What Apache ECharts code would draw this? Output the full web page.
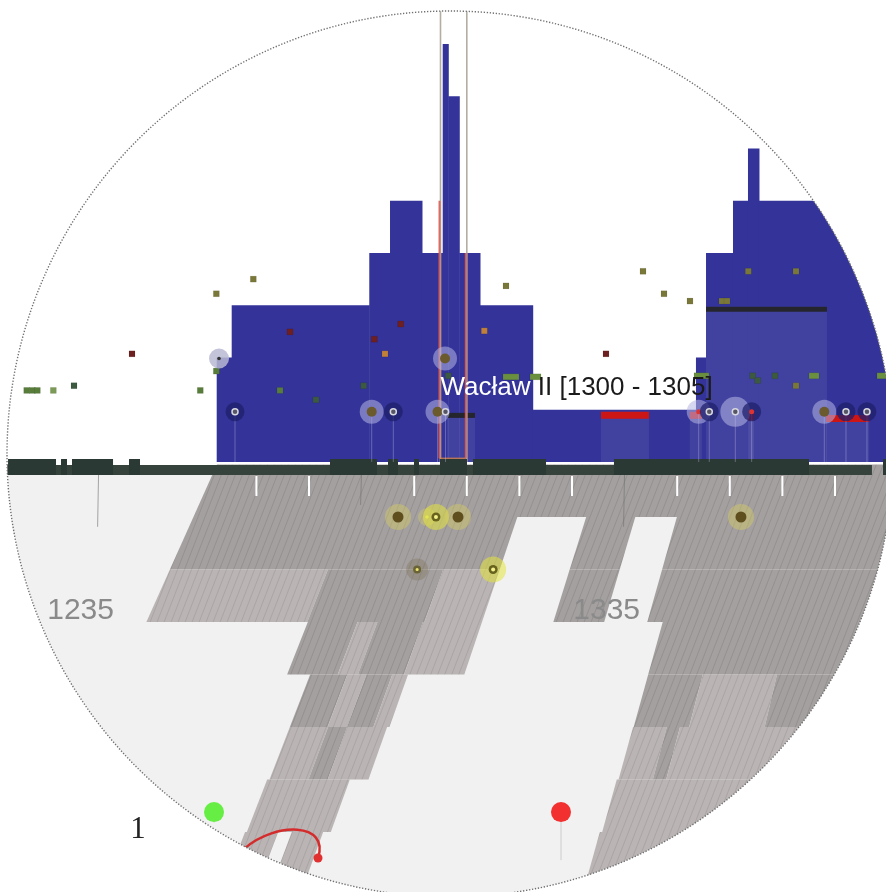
<!DOCTYPE html>
<html><head><meta charset="utf-8">
<script src="https://cdn.jsdelivr.net/npm/echarts@6/dist/echarts.min.js"></script>
<style>html,body{margin:0;padding:0;background:#fff}#c{width:886px;height:892px}</style>
</head><body><div id="c"></div>
<script>
// ---------------- DATA ----------------
// histogram of rulers (step bins, years) and their counts
const histEdges  = [1257.45,1260.30,1286.46,1290.40,1296.48,1300.42,1301.48,1303.57,1307.51,1317.53,1348.57,1350.48,1355.61,1358.46,1360.55,1390];
const histCounts = [2,3,4,5,4,8,7,4,3,1,2,4,5,6,5];

// highlighted reign
const reignName = 'Wacław';
const reignSuffix = 'II [1300 - 1305]';
const reignStart = 1300, reignEnd = 1305;
const reignTopLeft = 5, reignTopRight = 4;

// periods: [start, end, level, kind(0 dark bar,1 red bar)]
const periods = [
  [1301.24,1306.56,0.94,0],[1350.48,1373.48,2.97,0],
  [1330.51,1339.64,0.96,1],[1347.40,1349.70,0.96,1],[1358.50,1359.60,0.93,1],[1373.30,1381.50,0.90,1]
];

// small event squares: [year, level, colour index, width]
const squareColors = ['#6e1f1f','#c0803a','#7a7838','#587d3a','#3c5a40','#7a9a55','#6a8f3e'];
const squares = [
  [1241.35,2.07,0,6],[1221.33,1.37,3,6],[1222.40,1.37,3,6],[1223.35,1.37,3,6],[1226.39,1.37,5,6],
  [1230.32,1.46,4,6],[1254.33,1.37,3,6],[1257.38,1.74,3,6],[1269.49,1.37,3,6],[1271.39,2.49,0,6],
  [1264.41,3.50,2,6],[1257.38,3.22,2,6],[1292.43,2.64,0,6],[1287.41,2.35,0,6],[1289.45,2.07,1,6],
  [1312.45,3.37,2,6],[1308.33,2.51,1,6],[1301.48,1.65,4,6],[1285.40,1.46,4,6],[1276.33,1.19,4,6],
  [1313.40,1.63,6,16],[1318.06,1.63,6,11],[1331.46,2.07,0,6],[1349.62,1.65,6,15],[1359.35,1.65,4,6],
  [1360.30,1.56,4,6],[1363.59,1.65,4,6],[1367.59,1.46,2,6],[1371.01,1.65,6,10],[1383.94,1.65,6,10],
  [1338.50,3.65,2,6],[1342.49,3.22,2,6],[1347.43,3.08,2,6],[1353.52,3.08,2,6],[1354.47,3.08,2,6],
  [1358.52,3.65,2,6],[1367.59,3.65,2,6]
];

// halo markers: [year, level, halo kind, core kind]
const halos = [
  [1257.89,1.98,3,3],[1260.93,0.96,2,1],[1286.92,0.96,1,0],[1291.03,0.96,2,1],[1299.43,0.96,1,0],
  [1300.95,0.96,0,1],[1300.86,1.98,1,0],[1349.09,0.96,1,2],[1351.10,0.96,2,1],[1356.05,0.96,4,1],
  [1359.16,0.96,2,2],[1372.97,0.96,1,0],[1377.09,0.96,2,1],[1381.08,0.96,2,1]
];

// timeline strip segments: [start, end, raised(1)/base(0)]
const stripSegs = [
  [1216,1382.03,0],[1384.13,1392,0],
  [1217.78,1226.90,1],[1227.85,1228.99,1],[1229.94,1237.74,1],[1240.78,1242.87,1],
  [1278.99,1287.93,1],[1290.02,1291.92,1],[1294.96,1295.91,1],[1299.90,1305.04,1],
  [1306.18,1320.06,1],[1332.98,1370.06,1],[1384.13,1392,1]
];

// decade ticks (years)
const tickYears = [1265,1275,1295,1305,1315,1325,1345,1355,1365,1375];
// thin half-century guide lines: [year, bottom level]
const guideLines = [[1235,-1.24],[1285,-0.82],[1335,-1.24]];

// lower perspective plane: [start, end, rowTop, rowBottom, tone(1 dark,0 light)]
const lowerBands = [
  [1256.6,1400,0,1,1],
  [1256.6,1317.3,1,2,1],[1330.2,1339.4,1,2,1],[1347.2,1400,1,2,1],
  [1256.6,1285.7,2,3,0],[1285.7,1306.9,2,3,1],[1306.9,1317.3,2,3,0],[1330.2,1339.4,2,3,1],[1347.2,1400,2,3,1],
  [1285.8,1294.8,3,4,1],[1294.8,1298.4,3,4,0],[1298.4,1306.6,3,4,1],[1306.6,1317.3,3,4,0],[1350.0,1400,3,4,1],
  [1289.9,1296.5,4,5,1],[1296.5,1299.9,4,5,0],[1299.9,1304.5,4,5,1],[1304.5,1307.3,4,5,0],[1350.0,1359.7,4,5,1],[1359.7,1372.9,4,5,0],[1372.9,1400,4,5,1],
  [1289.9,1296.6,5,6,0],[1296.6,1299.9,5,6,1],[1299.9,1306.9,5,6,0],[1349.9,1355.8,5,6,0],[1355.8,1358.1,5,6,1],[1358.1,1400,5,6,0],
  [1289.5,1303.7,6,7,0],[1349.6,1400,6,7,0],
  [1289.2,1294.8,7,8,0],[1297.1,1302.4,7,8,0],[1349.2,1400,7,8,0]
];
// lower plane labels
const lowerLabelYears = [1237.7,1333.2];
const lowerLabelRow = 2.79;
const lowerLabelText = ['1235','1335'];
// glowing dots on lower plane: [year, row, type]
const glowDots = [[1294.94,1,0],[1300.36,1,1],[1302.05,1,2],[1306.18,1,0],[1359.20,1,0],[1302.11,2,3],[1316.10,2,2]];

// pins: [year, level, colour idx, stem end level]
const pins = [[1256.94,-6.70,0,-6.9],[1322.91,-6.70,1,-7.62]];
// arc control points [year, level]
const arcPts = [[1262.83,-7.39],[1268.54,-6.89],[1278.99,-6.89],[1276.71,-7.58]];
const markText = [[1242.49,-7.04,'1']];

// ---------------- AXES RANGES ----------------
const X_MIN = 1216.25, X_MAX = 1384.70;
const LEVEL_MIN = -8.2297, LEVEL_MAX = 8.8421;
const VPX = 1500, VPY = -2400, Y0 = 475;

function makePattern(bg, line){
  const c = document.createElement('canvas'); c.width = 7; c.height = 18;
  const g = c.getContext('2d'); g.fillStyle = bg; g.fillRect(0,0,7,18);
  g.strokeStyle = line; g.lineWidth = 1;
  for (const off of [-7,0,7]) { g.beginPath(); g.moveTo(off,18); g.lineTo(off+7,0); g.stroke(); }
  return {image: c, repeat: 'repeat'};
}
const patDark = makePattern('#a5a0a0','#959090');
const patLight = makePattern('#bab4b4','#aaa4a4');

function persp(api, v, r){
  const p = api.coord([v, r]);
  const k = (p[1]-VPY)/(Y0-VPY);
  return [VPX + (p[0]-VPX)*k, p[1]];
}

const chart = echarts.init(document.getElementById('c'), null, {renderer:'canvas', devicePixelRatio:1});
const FONT = 'Liberation Sans, Arial, sans-serif';

const option = {
  animation: false,
  backgroundColor: '#ffffff',
  grid: [{left:0,right:0,top:0,bottom:0},{left:0,right:0,top:464.5,bottom:7.5}],
  xAxis: [
    {type:'value',gridIndex:0,min:X_MIN,max:X_MAX,show:false},
    {type:'value',gridIndex:1,min:X_MIN,max:X_MAX,show:false}
  ],
  yAxis: [
    {type:'value',gridIndex:0,min:LEVEL_MIN,max:LEVEL_MAX,show:false},
    {type:'value',gridIndex:1,min:0,max:8,inverse:true,show:false}
  ],
  graphic: [
    {type:'rect',z:0,silent:true,shape:{x:0,y:470,width:886,height:422},style:{fill:'#f1f1f1'}},
    {type:'circle',z:100,silent:true,shape:{cx:450,cy:454,r:843},style:{fill:'transparent',stroke:'#ffffff',lineWidth:800}},
    {type:'circle',z:101,silent:true,shape:{cx:450,cy:454,r:443},style:{fill:'transparent',stroke:'#6f6f6f',lineWidth:1.4,lineDash:[1.3,1.7]}}
  ],
  series: [
    { // lower perspective bands
      type:'custom', xAxisIndex:1, yAxisIndex:1, z:3, silent:true, clip:false,
      data: lowerBands,
      renderItem(params, api){
        const a=api.value(0), b=api.value(1), r0=api.value(2), r1=api.value(3), t=api.value(4);
        return {type:'polygon', shape:{points:[persp(api,a,r0),persp(api,b,r0),persp(api,b,r1),persp(api,a,r1)]},
          style:{fill: t===1 ? patDark : patLight}};
      }
    },
    { // guide lines
      type:'custom', xAxisIndex:0, yAxisIndex:0, z:4, silent:true, clip:false,
      data: guideLines,
      renderItem(params, api){
        const p0 = api.coord([api.value(0), -0.15]), p1 = api.coord([api.value(0), api.value(1)]);
        return {type:'line', shape:{x1:p0[0],y1:p0[1],x2:p1[0]-1,y2:p1[1]}, style:{stroke:'rgba(110,110,110,0.6)',lineWidth:1}};
      }
    },
    { // lower labels
      type:'custom', xAxisIndex:1, yAxisIndex:1, z:5, silent:true, clip:false,
      data: lowerLabelYears.map((y,i)=>[y, lowerLabelRow, i]),
      renderItem(params, api){
        const p = persp(api, api.value(0), api.value(1));
        return {type:'text', x:p[0], y:p[1], style:{text:lowerLabelText[api.value(2)], fill:'#8a8a8a', fontSize:30, fontFamily:FONT, align:'left', verticalAlign:'middle'}};
      }
    },
    { // glowing dots
      type:'custom', xAxisIndex:1, yAxisIndex:1, z:6, silent:true, clip:false,
      data: glowDots,
      renderItem(params, api){
        const p = persp(api, api.value(0), api.value(1)); const t = api.value(2);
        const ch = [];
        const c = (r, fill) => ({type:'circle', shape:{cx:p[0],cy:p[1],r}, style:{fill}});
        if (t===0){ ch.push(c(13,'rgba(214,208,96,0.42)'), c(5.5,'#5f4f1f')); }
        else if (t===1){ ch.push(c(9,'rgba(214,208,96,0.35)'), c(1.8,'#e6e070')); }
        else if (t===2){ ch.push(c(13,'rgba(228,228,60,0.55)'), c(4.5,'#67631e'), c(2,'#f4f08a')); }
        else { ch.push(c(11,'rgba(120,110,80,0.33)'), c(4,'#6a6333'), c(1.6,'#e8e070')); }
        return {type:'group', children:ch};
      }
    },
    { // histogram
      type:'custom', xAxisIndex:0, yAxisIndex:0, z:7, silent:true, clip:false,
      data: histCounts.map((c,i)=>[histEdges[i], histEdges[i+1], c]),
      renderItem(params, api){
        const p0 = api.coord([api.value(0), api.value(2)]), p1 = api.coord([api.value(1), 0]);
        return {type:'rect', shape:{x:p0[0], y:p0[1], width:p1[0]-p0[0]+0.5, height:p1[1]-p0[1]}, style:{fill:'#333399'}};
      }
    },
    { // periods
      type:'custom', xAxisIndex:0, yAxisIndex:0, z:8, silent:true, clip:false,
      data: periods,
      renderItem(params, api){
        const p0 = api.coord([api.value(0), api.value(2)]), p1 = api.coord([api.value(1), 0]);
        const w = p1[0]-p0[0], k = api.value(3);
        const bh = k===0 ? 5 : 7;
        return {type:'group', children:[
          {type:'rect', shape:{x:p0[0],y:p0[1],width:w,height:p1[1]-p0[1]}, style:{fill:'rgba(255,255,255,0.07)'}},
          {type:'rect', shape:{x:p0[0],y:p0[1],width:w,height:bh}, style:{fill: k===0 ? '#25252e' : '#cc1515'}}
        ]};
      }
    },
    { // squares
      type:'custom', xAxisIndex:0, yAxisIndex:0, z:9, silent:true, clip:false,
      data: squares,
      renderItem(params, api){
        const p = api.coord([api.value(0), api.value(1)]); const w = api.value(3);
        return {type:'rect', shape:{x:p[0]-w/2, y:p[1]-3, width:w, height:6}, style:{fill:squareColors[api.value(2)], stroke:'rgba(0,0,0,0.15)', lineWidth:0.5}};
      }
    },
    { // reign lines
      type:'custom', xAxisIndex:0, yAxisIndex:0, z:10, silent:true, clip:false,
      data: [[reignStart, reignEnd]],
      renderItem(params, api){
        const a = api.value(0), b = api.value(1);
        const gA0 = api.coord([a, LEVEL_MAX]), gA1 = api.coord([a, 0]);
        const gB0 = api.coord([b, LEVEL_MAX]), gB1 = api.coord([b, 0]);
        const rA0 = api.coord([a, reignTopLeft]), rB0 = api.coord([b, reignTopRight]);
        const rBot = api.coord([a, 0.07]), rBotB = api.coord([b, 0.07]);
        const gs = {stroke:'#b3aea2', lineWidth:1.6};
        const rs = {stroke:'rgba(215,95,85,0.9)', lineWidth:2};
        return {type:'group', children:[
          {type:'line', shape:{x1:gA0[0],y1:gA0[1],x2:gA1[0],y2:gA1[1]}, style:gs},
          {type:'line', shape:{x1:gB0[0],y1:gB0[1],x2:gB1[0],y2:gB1[1]}, style:gs},
          {type:'line', shape:{x1:rA0[0]-1,y1:rA0[1],x2:rBot[0]-1,y2:rBot[1]}, style:rs},
          {type:'line', shape:{x1:rB0[0]-1,y1:rB0[1],x2:rBotB[0]-1,y2:rBotB[1]}, style:rs},
          {type:'line', shape:{x1:rBot[0]-1,y1:rBot[1],x2:rBotB[0]-1,y2:rBotB[1]}, style:{stroke:'rgba(215,130,70,0.8)',lineWidth:1.5}}
        ]};
      }
    },
    { // timeline strip
      type:'custom', xAxisIndex:0, yAxisIndex:0, z:11, silent:true, clip:false,
      data: stripSegs,
      renderItem(params, api){
        const raised = api.value(2)===1;
        const p0 = api.coord([api.value(0), raised ? 0.057 : -0.057]), p1 = api.coord([api.value(1), -0.249]);
        return {type:'rect', shape:{x:p0[0],y:p0[1],width:p1[0]-p0[0],height:p1[1]-p0[1]}, style:{fill: raised ? '#2b3934' : '#36433d'}};
      }
    },
    { // ticks
      type:'custom', xAxisIndex:0, yAxisIndex:0, z:12, silent:true, clip:false,
      data: tickYears.map(y=>[y]),
      renderItem(params, api){
        const p0 = api.coord([api.value(0), -0.268]), p1 = api.coord([api.value(0), -0.651]);
        return {type:'rect', shape:{x:p0[0]-1,y:p0[1],width:2,height:p1[1]-p0[1]}, style:{fill:'#ffffff'}};
      }
    },
    { // halos
      type:'custom', xAxisIndex:0, yAxisIndex:0, z:13, silent:true, clip:false,
      data: halos,
      renderItem(params, api){
        const p = api.coord([api.value(0), api.value(1)]), base = api.coord([api.value(0), 0]);
        const hk = api.value(2), ck = api.value(3);
        const ch = [];
        if (api.value(1) < 1.5) ch.push({type:'line', shape:{x1:p[0],y1:p[1],x2:p[0],y2:base[1]}, style:{stroke:'rgba(200,200,235,0.35)',lineWidth:1}});
        const H = [null,{r:12,c:'rgba(180,180,228,0.55)'},{r:9.5,c:'rgba(32,32,108,0.75)'},{r:10,c:'rgba(185,185,212,0.85)'},{r:15,c:'rgba(195,195,235,0.5)'}][hk];
        if (H) ch.push({type:'circle', shape:{cx:p[0],cy:p[1],r:H.r}, style:{fill:H.c}});
        if (ck===0) ch.push({type:'circle', shape:{cx:p[0],cy:p[1],r:5}, style:{fill:'#6b5a2e'}});
        else if (ck===1) ch.push({type:'circle', shape:{cx:p[0],cy:p[1],r:3}, style:{fill:'#555566', stroke:'#d8d8e0', lineWidth:1.5}});
        else if (ck===2) ch.push({type:'circle', shape:{cx:p[0],cy:p[1],r:2.5}, style:{fill:'#dd3333'}});
        else ch.push({type:'circle', shape:{cx:p[0],cy:p[1],r:1.8}, style:{fill:'#333333'}});
        return {type:'group', children:ch};
      }
    },
    { // reign label
      type:'custom', xAxisIndex:0, yAxisIndex:0, z:14, silent:true, clip:false,
      data: [[reignStart, 1.416]],
      renderItem(params, api){
        const p = api.coord([api.value(0), api.value(1)]);
        return {type:'text', x:p[0], y:p[1], style:{
          text:'{a|' + reignName + '} {b|' + reignSuffix + '}', fontSize:26, fontFamily:FONT, fill:'#1a1a1a',
          align:'left', verticalAlign:'middle',
          rich:{a:{fill:'#ffffff',fontSize:26,fontFamily:FONT}, b:{fill:'#1a1a1a',fontSize:26,fontFamily:FONT}}
        }};
      }
    },
    { // pins
      type:'custom', xAxisIndex:0, yAxisIndex:0, z:15, silent:true, clip:false,
      data: pins,
      renderItem(params, api){
        const p = api.coord([api.value(0), api.value(1)]), e = api.coord([api.value(0), api.value(3)]);
        const col = api.value(2)===0 ? '#66ee44' : '#f23030';
        return {type:'group', children:[
          {type:'line', shape:{x1:p[0],y1:p[1],x2:e[0],y2:e[1]}, style:{stroke:'#cccccc',lineWidth:1}},
          {type:'circle', shape:{cx:p[0],cy:p[1],r:10}, style:{fill:col}}
        ]};
      }
    },
    { // arc
      type:'custom', xAxisIndex:0, yAxisIndex:0, z:15, silent:true, clip:false,
      data: [[arcPts[0][0], arcPts[0][1]]],
      renderItem(params, api){
        const q = arcPts.map(pt => api.coord(pt));
        return {type:'group', children:[
          {type:'bezierCurve', shape:{x1:q[0][0],y1:q[0][1],cpx1:q[1][0],cpy1:q[1][1],cpx2:q[2][0],cpy2:q[2][1],x2:q[3][0],y2:q[3][1]}, style:{stroke:'#d42c2c',lineWidth:2.5,fill:null}},
          {type:'circle', shape:{cx:q[3][0],cy:q[3][1],r:4.5}, style:{fill:'#e03030'}}
        ]};
      }
    },
    { // mark text (outside the lens, drawn above the mask)
      type:'custom', xAxisIndex:0, yAxisIndex:0, z:120, silent:true, clip:false,
      data: markText.map(m=>[m[0], m[1]]),
      renderItem(params, api){
        const p = api.coord([api.value(0), api.value(1)]);
        return {type:'text', x:p[0], y:p[1], style:{text:markText[params.dataIndex][2], fill:'#222222', fontSize:31, fontWeight:'normal', fontFamily:'Liberation Serif, DejaVu Serif, serif', align:'center', verticalAlign:'middle'}};
      }
    }
  ]
};
chart.setOption(option);
</script>
</body></html>
